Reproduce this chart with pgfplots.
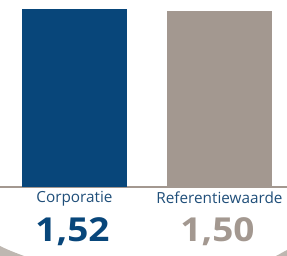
\documentclass[border=0pt]{standalone}
\usepackage{fontspec}
\setmainfont{Open Sans}
\newfontfamily\numfont[FakeStretch=1.12]{Open Sans}
\usepackage{pgfplots}
\pgfplotsset{compat=1.18}
\definecolor{cblue}{HTML}{08467A}
\definecolor{cgray}{HTML}{A39890}
\definecolor{lblue}{HTML}{1F4E79}
\begin{document}
\begin{tikzpicture}
\useasboundingbox (0,0) rectangle (287pt,-256pt);
% decorative bottom corner shadows
\fill[cgray!70] (0pt,-246pt) .. controls (8pt,-250pt) and (16pt,-253pt) .. (24pt,-256pt) -- (0pt,-256pt) -- cycle;
\fill[cgray!70] (287pt,-250pt) .. controls (283pt,-252pt) and (280pt,-254pt) .. (276pt,-256pt) -- (287pt,-256pt) -- cycle;
\begin{axis}[
  at={(0pt,0pt)}, anchor=north west,
  scale only axis, width=287pt, height=187pt,
  ymin=0, ymax=1.597, xmin=-0.514, xmax=1.466,
  axis y line=none,
  axis x line=bottom,
  axis line style={-, draw=cgray, line width=1.6pt},
  xtick={0,1}, xticklabels={Corporatie,Referentiewaarde},
  major tick length=0pt,
  xticklabel style={font=\fontsize{15.3}{17}\selectfont, text=lblue, yshift=-1pt},
  ybar, bar width=105pt, bar shift=0pt,
  clip=false,
]
\addplot[fill=cblue, draw=none] coordinates {(0,1.52)};
\addplot[fill=cgray, draw=none] coordinates {(1,1.50)};
\node[font=\numfont\fontsize{33}{36}\selectfont\bfseries, text=cblue] at (axis cs:0,0) [yshift=-45pt, xshift=-2pt] {1,52};
\node[font=\numfont\fontsize{33}{36}\selectfont\bfseries, text=cgray] at (axis cs:1,0) [yshift=-45pt, xshift=-2pt] {1,50};
\end{axis}
\end{tikzpicture}
\end{document}
